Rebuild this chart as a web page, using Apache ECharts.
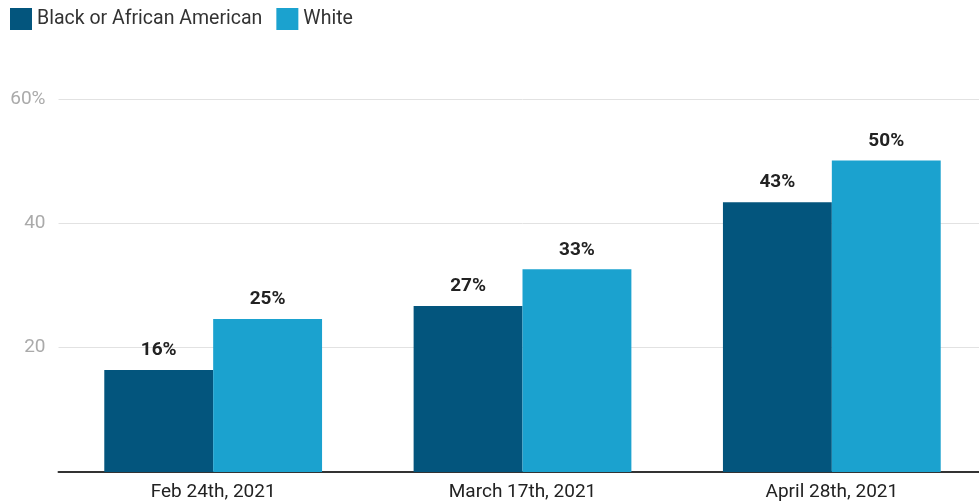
<!DOCTYPE html>
<html><head><meta charset="utf-8">
<script src="https://cdn.jsdelivr.net/npm/echarts@6/dist/echarts.min.js"></script>
<style>html,body{margin:0;padding:0;background:#fff;overflow:hidden}#c{width:990px;height:504px}</style>
</head><body><div id="c"></div>
<script>
const categories = ['Feb 24th, 2021', 'March 17th, 2021', 'April 28th, 2021'];
const blackValues = [16.4, 26.7, 43.4];
const whiteValues = [24.6, 32.6, 50.1];
const seriesNames = ['Black or African American', 'White'];
const yTicks = [0, 20, 40, 60];

const chart = echarts.init(document.getElementById('c'));
const labelStyle = {show: true, position: 'top', distance: 10, fontFamily: 'Roboto', fontWeight: 'bold', fontSize: 19, color: '#222',
  formatter: p => Math.round(p.value) + '%'};
chart.setOption({
  animation: false,
  textStyle: {fontFamily: 'Roboto'},
  legend: {left: 5, top: 3, itemWidth: 22, itemHeight: 22, itemGap: 14, icon: 'rect',
    textStyle: {fontSize: 19.5, color: '#333', fontFamily: 'Roboto'}, data: seriesNames},
  grid: {left: 58.5, right: 3.5, top: 99, bottom: 32, containLabel: false},
  xAxis: {type: 'category', data: categories,
    axisLine: {lineStyle: {color: '#333', width: 2}}, axisTick: {show: false},
    axisLabel: {fontSize: 19, color: '#222', margin: 11, fontFamily: 'Roboto'}},
  yAxis: {type: 'value', min: yTicks[0], max: yTicks[yTicks.length - 1], interval: 20,
    axisLine: {show: false}, axisTick: {show: false},
    splitLine: {lineStyle: {color: '#e2e2e2', width: 1}},
    axisLabel: {fontSize: 19, color: '#aaa', margin: 13, fontFamily: 'Roboto', align: 'right',
      formatter: v => v === 0 ? '' : (v === 60 ? '60%' : String(v))}},
  series: [
    {name: seriesNames[0], type: 'bar', data: blackValues, barGap: '0%', barCategoryGap: '29.6%',
      itemStyle: {color: '#03557d'}, label: labelStyle},
    {name: seriesNames[1], type: 'bar', data: whiteValues,
      itemStyle: {color: '#1ba2cf'}, label: labelStyle}
  ]
});
</script></body></html>
